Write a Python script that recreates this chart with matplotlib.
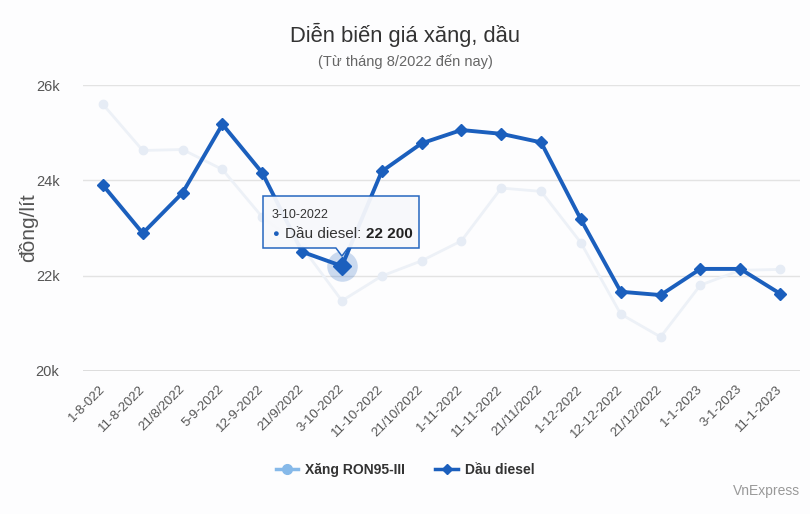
import matplotlib
matplotlib.use('Agg')
import matplotlib.pyplot as plt
from matplotlib.patches import Polygon
from matplotlib.lines import Line2D
from matplotlib.transforms import IdentityTransform

plt.rcParams['font.family'] = ['Liberation Sans', 'DejaVu Sans']

dates = ['1-8-022', '11-8-2022', '21/8/2022', '5-9-2022', '12-9-2022', '21/9/2022',
         '3-10-2022', '11-10-2022', '21/10/2022', '1-11-2022', '11-11-2022',
         '21/11/2022', '1-12-2022', '12-12-2022', '21/12/2022', '1-1-2023',
         '3-1-2023', '11-1-2023']
xang_ron95 = [25600, 24630, 24650, 24230, 23230, 22600, 21470, 21990, 22310,
              22730, 23840, 23770, 22690, 21190, 20710, 21800, 22110, 22130]
dau_diesel = [23900, 22890, 23740, 25180, 24160, 22500, 22200, 24190, 24780,
              25060, 24980, 24800, 23180, 21660, 21590, 22140, 22140, 21620]
hover_idx = 6

DIESEL = '#1b5fbd'
XANG_FADED = '#edf1f7'
XANG_LEGEND = '#86b9e9'

fig = plt.figure(figsize=(8.1, 5.14), dpi=100)
fig.patch.set_facecolor('#fdfdfe')
ax = fig.add_axes([83 / 810, 1 - 370.7 / 514, 717 / 810, 285.4 / 514])
ax.set_facecolor('#fdfdfe')

x = list(range(len(dates)))
ax.plot(x, xang_ron95, color=XANG_FADED, lw=2, marker='o', ms=6,
        mfc='#e6ecf5', mec='#e6ecf5', zorder=2)
ax.plot(x, dau_diesel, color=DIESEL, lw=2.8, marker='D', ms=6,
        mfc=DIESEL, mec=DIESEL, zorder=3)
# hover halo
ax.plot(x[hover_idx], dau_diesel[hover_idx], marker='o', ms=22,
        color=DIESEL, alpha=0.22, mew=0, zorder=2.5)
ax.plot(x[hover_idx], dau_diesel[hover_idx], marker='D', ms=9,
        color=DIESEL, zorder=4)

ax.set_xlim(-0.5, len(dates) - 0.5)
ax.set_ylim(20000, 26000)
ax.set_yticks([20000, 22000, 24000, 26000])
ax.set_yticklabels(['20k', '22k', '24k', '26k'])
ax.set_xticks(x)
ax.set_xticklabels(dates, rotation=45, ha='right', va='center',
                   rotation_mode='anchor', fontsize=9.5, color='#555555')
ax.tick_params(axis='x', length=0, pad=12)
ax.tick_params(axis='y', length=0, pad=17, labelsize=10.5, labelcolor='#555555')
ax.grid(axis='y', color='#e3e3e3', lw=1)
ax.set_axisbelow(True)
for s in ax.spines.values():
    s.set_visible(False)
ax.axhline(20000, color='#d8d8d8', lw=1.2, zorder=1)

fig.text(28 / 810, 1 - 228 / 514, 'đồng/lít', rotation=90, ha='center',
         va='center', fontsize=15, color='#555555')
fig.text(0.5, 1 - 35 / 514, 'Diễn biến giá xăng, dầu', ha='center',
         va='center', fontsize=15.8, color='#333333')
fig.text(0.5, 1 - 62 / 514, '(Từ tháng 8/2022 đến nay)', ha='center',
         va='center', fontsize=10.5, color='#666666')
fig.text(800 / 810, 1 - 491 / 514, 'VnExpress', ha='right', va='center',
         fontsize=10, color='#999999')

# legend
handles = [Line2D([0], [0], color=XANG_LEGEND, lw=2.5, marker='o', ms=7),
           Line2D([0], [0], color=DIESEL, lw=2.5, marker='D', ms=5.5)]
leg = fig.legend(handles, ['Xăng RON95-III', 'Dầu diesel'], loc='center',
                 bbox_to_anchor=(405 / 810, 1 - 470 / 514), ncol=2, frameon=False,
                 handlelength=1.6, columnspacing=2.2, handletextpad=0.5,
                 prop={'weight': 'bold', 'size': 10})
for t in leg.get_texts():
    t.set_color('#333333')

# tooltip
fig.canvas.draw()
px, py = ax.transData.transform((x[hover_idx], dau_diesel[hover_idx]))
H = 514
left, right = 263, 419
top_y, bot_y = H - 196, H - 248
tip = py + 10
box = Polygon([(left, top_y), (right, top_y), (right, bot_y), (px + 6, bot_y),
               (px, tip), (px - 6, bot_y), (left, bot_y)],
              closed=True, transform=IdentityTransform(), facecolor='#f7f8fb',
              edgecolor=DIESEL, lw=1.1, alpha=0.95, zorder=10)
fig.patches.append(box)
fig.text(272 / 810, 1 - 215 / 514, '3-10-2022', ha='left', va='center',
         fontsize=9, color='#333333', zorder=11)
fig.text(272 / 810, 1 - 234 / 514, '●', ha='left', va='center',
         fontsize=8, color=DIESEL, zorder=11)
t1 = fig.text(285 / 810, 1 - 234 / 514, 'Dầu diesel: ', ha='left', va='center',
              fontsize=11, color='#333333', zorder=11)
renderer = fig.canvas.get_renderer()
bb = t1.get_window_extent(renderer)
fig.text(bb.x1 / 810, 1 - 234 / 514, f'{dau_diesel[hover_idx]:,}'.replace(',', ' '),
         ha='left', va='center', fontsize=11, fontweight='bold',
         color='#222222', zorder=11)

fig.savefig('out.png', dpi=100, facecolor=fig.get_facecolor())
